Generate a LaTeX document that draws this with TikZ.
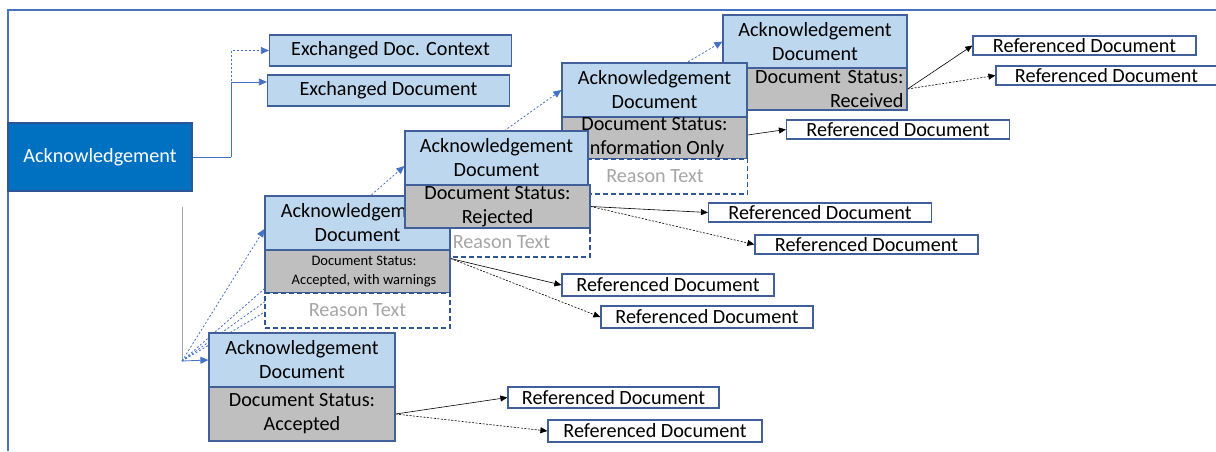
\documentclass[tikz,border=0pt]{standalone}
\usepackage{fontspec}
\setmainfont{Carlito}
\usetikzlibrary{arrows.meta,backgrounds}

\definecolor{ackblue}{HTML}{0070C0}
\definecolor{ackedge}{HTML}{2F5597}
\definecolor{docfill}{HTML}{BDD7EE}
\definecolor{boxedge}{HTML}{41609A}
\definecolor{statusgray}{HTML}{BFBFBF}
\definecolor{reasongray}{HTML}{A6A6A6}
\definecolor{linkblue}{HTML}{4472C4}
\definecolor{stemgray}{HTML}{9AA6BE}

\newcommand\docfont{\fontsize{20.2}{24}\selectfont}
\newcommand\smallfont{\fontsize{14.5}{19}\selectfont}

\tikzset{
  box/.style={draw=boxedge, line width=1.2pt, inner sep=0pt, align=center, font=\docfont},
  mainack/.style={box, draw=ackedge, fill=ackblue, text=white, minimum width=184pt, minimum height=68pt},
  ctxdoc/.style={box, fill=docfill, minimum width=242pt, minimum height=31pt},
  ackdoc/.style={box, fill=docfill, minimum width=185pt, minimum height=54pt},
  docstatus/.style={box, fill=statusgray, minimum width=185pt, minimum height=43pt},
  reasonbox/.style={box, draw=ackedge, dash pattern=on 5pt off 3pt, fill=white, text=reasongray, minimum width=185pt, minimum height=35pt},
  refdoc/.style={box, fill=white, minimum width=223pt, minimum height=19pt},
  bluelink/.style={draw=linkblue, line width=0.8pt, -{Triangle[length=8pt,width=7pt]}},
  bluedash/.style={bluelink, dash pattern=on 2pt off 2pt},
  reflink/.style={draw=black, line width=0.6pt, -{Triangle[length=7pt,width=6pt]}},
  refdash/.style={reflink, dash pattern=on 2pt off 1.5pt}
}

\begin{document}
\begin{tikzpicture}[x=1pt,y=-1pt]
  \useasboundingbox (0,0) rectangle (1216,451);

  % frame
  \draw[linkblue, line width=1.5pt] (8,451) -- (8,10) -- (1216,10);

  % header part
  \node[mainack] (ack) at (100,157) {Acknowledgement};
  \node[ctxdoc] (edc) at (390.5,50.5) {Exchanged Doc. Context};
  \node[ctxdoc] (ed) at (388.5,90.5) {Exchanged Document};
  \coordinate (split) at (231,157);
  \coordinate (fantop) at (182,207);
  \coordinate (fan) at (182,361);

  % Received
  \node[ackdoc, minimum width=184pt, minimum height=53pt] (ackR) at (815,41.5) {Acknowledgement\\Document};
  \node[docstatus, minimum width=184pt, minimum height=42pt, text width=177pt, align=right] (stR) at (815,89) {Document Status:\\Received};

  % Information only
  \node[ackdoc] (ackI) at (654.5,90) {Acknowledgement\\Document};
  \node[docstatus, minimum height=42pt] (stI) at (654.5,138) {Document Status:\\Information Only};
  \node[reasonbox] (rsI) at (655,176.5) {Reason Text};

  % Rejected (reason first, it sits behind the warnings box)
  \node[reasonbox, minimum height=29pt] (rsJ) at (497.5,242.5) {\hspace*{8pt}Reason Text};

  % Accepted, with warnings
  \node[ackdoc] (ackW) at (357.5,223) {Acknowledgement\\Document};
  \node[docstatus, font=\smallfont] (stW) at (357.5,271.5) {\hspace*{13pt}Document Status:\\\hspace*{13pt}Accepted, with warnings};
  \node[reasonbox] (rsW) at (357.5,310.5) {Reason Text};

  \node[ackdoc, minimum width=183pt] (ackJ) at (496.5,158) {Acknowledgement\\Document};
  \node[docstatus] (stJ) at (497.5,206.5) {Document Status:\\Rejected};

  % Accepted
  \node[ackdoc, minimum width=186pt] (ackA) at (302,360) {Acknowledgement\\Document};
  \node[docstatus, minimum width=186pt, minimum height=54pt] (stA) at (302,414) {Document Status:\\Accepted};

  % referenced documents
  \node[refdoc] (refR1) at (1084.5,45.5) {Referenced Document};
  \node[refdoc, minimum width=221pt] (refR2) at (1106.5,75.5) {Referenced Document};
  \node[refdoc] (refI1) at (898,129.5) {Referenced Document};
  \node[refdoc] (refJ1) at (820,212.5) {Referenced Document};
  \node[refdoc] (refJ2) at (866.5,244.5) {Referenced Document};
  \node[refdoc, minimum width=212pt, minimum height=22pt] (refW1) at (668,285) {Referenced Document};
  \node[refdoc, minimum width=212pt, minimum height=22pt] (refW2) at (707,317) {Referenced Document};
  \node[refdoc, minimum width=211pt, minimum height=21pt] (refA1) at (613.5,397.5) {Referenced Document};
  \node[refdoc, minimum width=214pt, minimum height=22pt] (refA2) at (655,431) {Referenced Document};

  \begin{scope}[on background layer]
    \draw[linkblue, line width=0.8pt] (ack.east) -- (split);
    \draw[bluelink] (split) |- ([yshift=8.5pt]ed.west);
    \draw[bluedash] (split) |- (edc.west);

    \draw[stemgray, line width=1pt] (fantop) -- (fan);
    \draw[bluelink] (fan) -- (ackA.west);
    \draw[bluedash] (fan) -- ([yshift=-6pt]ackW.west);
    \draw[bluedash] (fan) -- ([yshift=-8pt]ackJ.west);
    \draw[bluedash] (fan) -- (ackI.west);
    \draw[bluedash] (fan) -- (ackR.west);

    \draw[reflink] (stR.east) -- (refR1.west);
    \draw[refdash] (stR.east) -- (refR2.west);
    \draw[reflink] ([yshift=3pt]stI.east) -- (refI1.west);
    \draw[reflink] (stJ.east) -- (refJ1.west);
    \draw[refdash] (stJ.east) -- (refJ2.west);
    \draw[reflink] ([yshift=13pt]stW.east) -- (refW1.west);
    \draw[refdash] ([yshift=13pt]stW.east) -- (refW2.west);
    \draw[reflink] (stA.east) -- (refA1.west);
    \draw[refdash] (stA.east) -- (refA2.west);
  \end{scope}
\end{tikzpicture}
\end{document}
